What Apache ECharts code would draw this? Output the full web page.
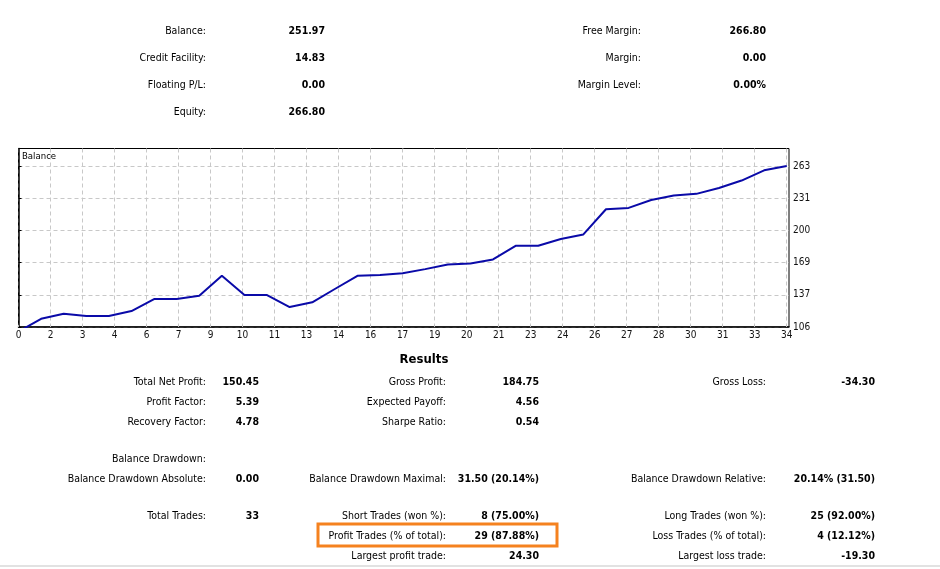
<!DOCTYPE html>
<html>
<head>
<meta charset="utf-8">
<script src="https://cdn.jsdelivr.net/npm/echarts@6/dist/echarts.min.js"></script>
<style>
  html, body { margin: 0; padding: 0; background: #fff; }
  #main { width: 940px; height: 569px; }
</style>
</head>
<body>
<div id="main"></div>
<script>
// balance after each trade (trade number -> balance)
var trades = [0, 1, 2, 3, 4, 5, 6, 7, 8, 9, 10, 11, 12, 13, 14, 15, 16, 17,
  18, 19, 20, 21, 22, 23, 24, 25, 26, 27, 28, 29, 30, 31, 32, 33, 34];
var balance = [101.52, 114.0, 119.0, 116.7, 116.7, 121.6, 133.3, 133.3, 136.5, 156.0,
  137.2, 137.2, 125.5, 130.1, 143.1, 156.0, 156.7, 158.5, 162.5, 167.0,
  168.1, 172.0, 185.3, 185.3, 192.0, 196.4, 221.0, 222.3, 230.0, 234.5,
  236.0, 241.8, 249.0, 259.0, 263.3];

var xTickLabels = ['0', '2', '3', '4', '6', '7', '9', '10', '11', '13', '14', '16', '17',
  '19', '20', '21', '23', '24', '26', '27', '28', '30', '31', '33', '34'];
var yTickValues = [106, 137.4, 168.8, 200.2, 231.6, 263];
var yTickLabels = ['106', '137', '169', '200', '231', '263'];

var topRows = [
  ['Balance:', '251.97', 'Free Margin:', '266.80'],
  ['Credit Facility:', '14.83', 'Margin:', '0.00'],
  ['Floating P/L:', '0.00', 'Margin Level:', '0.00%'],
  ['Equity:', '266.80', '', '']
];

var resultRows = [
  ['Total Net Profit:', '150.45', 'Gross Profit:', '184.75', 'Gross Loss:', '-34.30'],
  ['Profit Factor:', '5.39', 'Expected Payoff:', '4.56', '', ''],
  ['Recovery Factor:', '4.78', 'Sharpe Ratio:', '0.54', '', ''],
  ['Balance Drawdown:', '', '', '', '', ''],
  ['Balance Drawdown Absolute:', '0.00', 'Balance Drawdown Maximal:', '31.50 (20.14%)', 'Balance Drawdown Relative:', '20.14% (31.50)'],
  ['Total Trades:', '33', 'Short Trades (won %):', '8 (75.00%)', 'Long Trades (won %):', '25 (92.00%)'],
  ['', '', 'Profit Trades (% of total):', '29 (87.88%)', 'Loss Trades (% of total):', '4 (12.12%)'],
  ['', '', 'Largest profit trade:', '24.30', 'Largest loss trade:', '-19.30']
];
var resultRowY = [382, 402, 422, 459, 479, 516, 536, 556];

var xStep = 34 / 24;
var xTickValues = xTickLabels.map(function (l, i) { return i * xStep; });

var font = '"DejaVu Sans Condensed", "DejaVu Sans", sans-serif';
function txt(s, x, y, bold, align) {
  return {
    type: 'text',
    style: {
      text: s, x: x, y: y,
      textAlign: align || 'right',
      textVerticalAlign: 'middle',
      font: (bold ? 'bold ' : '') + '10.5px ' + font,
      fill: '#000'
    }
  };
}

var graphics = [];
topRows.forEach(function (r, i) {
  var y = 31 + i * 27;
  graphics.push(txt(r[0], 206, y, false));
  graphics.push(txt(r[1], 325, y, true));
  graphics.push(txt(r[2], 641, y, false));
  graphics.push(txt(r[3], 766, y, true));
});
graphics.push({
  type: 'text',
  style: { text: 'Results', x: 424, y: 360, textAlign: 'center', textVerticalAlign: 'middle',
    font: 'bold 13px ' + font, fill: '#000' }
});
resultRows.forEach(function (r, i) {
  var y = resultRowY[i];
  graphics.push(txt(r[0], 206, y, false));
  graphics.push(txt(r[1], 259, y, true));
  graphics.push(txt(r[2], 446, y, false));
  graphics.push(txt(r[3], 539, y, true));
  graphics.push(txt(r[4], 766, y, false));
  graphics.push(txt(r[5], 875, y, true));
});
graphics.push({
  type: 'rect',
  shape: { x: 318, y: 524, width: 239, height: 22 },
  style: { fill: 'none', stroke: '#f5821f', lineWidth: 3 }
});
graphics.push({
  type: 'text',
  style: { text: 'Balance', x: 22, y: 157, textAlign: 'left', textVerticalAlign: 'middle',
    font: '9.5px ' + font, fill: '#000' }
});
graphics.push({
  type: 'line',
  shape: { x1: 0, y1: 566, x2: 940, y2: 566 },
  style: { stroke: '#e2e2e2', lineWidth: 2 }
});

var chart = echarts.init(document.getElementById('main'));
chart.setOption({
  animation: false,
  grid: {
    left: 18.5, top: 148.5, right: 151, bottom: 242,
    show: true, borderColor: '#000', borderWidth: 1
  },
  xAxis: {
    type: 'value',
    min: 0,
    max: 34.1,
    axisLine: { show: true, onZero: false, lineStyle: { color: '#000', width: 1.5 } },
    axisTick: { show: true, inside: true, length: 2, customValues: xTickValues, lineStyle: { color: '#bbb' } },
    axisLabel: {
      customValues: xTickValues,
      margin: 3,
      fontSize: 10,
      fontFamily: font,
      color: '#111',
      formatter: function (v) { return xTickLabels[Math.round(v / xStep)]; }
    },
    splitLine: { show: true, lineStyle: { color: '#c8c8c8', type: [4, 3] } }
  },
  yAxis: {
    type: 'value',
    position: 'right',
    min: 106,
    max: 280.3,
    axisLine: { show: true, lineStyle: { color: '#000', width: 1.5 } },
    axisTick: { show: true, length: 3, customValues: yTickValues, lineStyle: { color: '#000' } },
    axisLabel: {
      customValues: yTickValues,
      margin: 4,
      fontSize: 10,
      fontFamily: font,
      color: '#111',
      formatter: function (v) { return yTickLabels[yTickValues.indexOf(v)]; }
    },
    splitLine: { show: true, lineStyle: { color: '#c8c8c8', type: [4, 3] } }
  },
  series: [{
    type: 'line',
    data: trades.map(function (t, i) { return [t, balance[i]]; }),
    showSymbol: false,
    clip: true,
    lineStyle: { color: '#0a0aa8', width: 2 }
  }],
  graphic: graphics
});
</script>
</body>
</html>
